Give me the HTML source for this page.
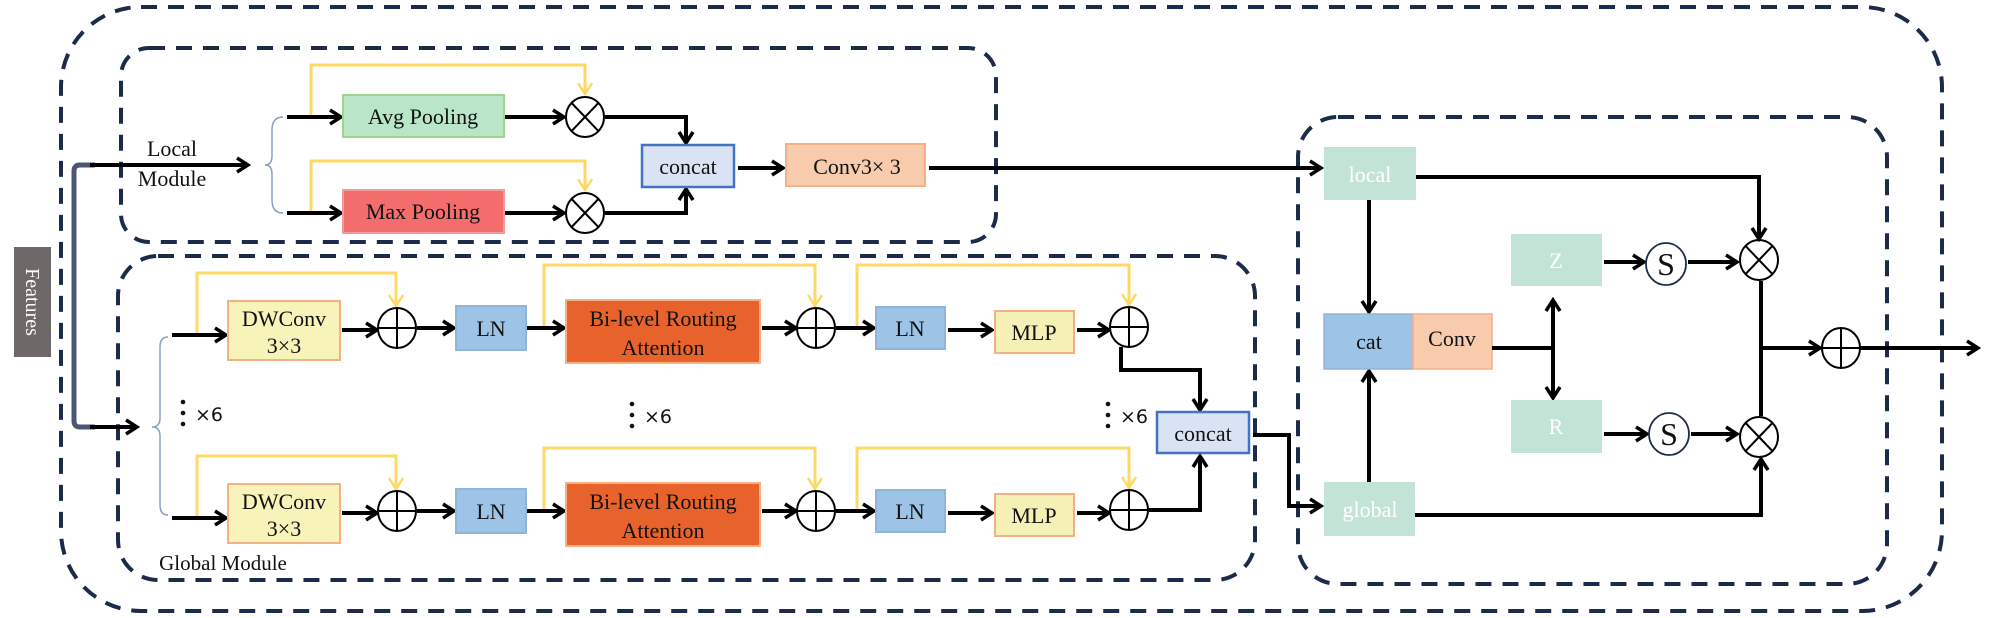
<!DOCTYPE html>
<html><head><meta charset="utf-8"><style>
html,body{margin:0;padding:0;background:#fff;}
svg{display:block;}
svg text.t, svg text.w{font-family:"Liberation Serif","Times New Roman",serif !important;}
.t{font-size:22px;fill:#111;text-anchor:middle;}
.w{font-size:22px;fill:#fff;text-anchor:middle;}
.s{font-family:"DejaVu Sans","Liberation Sans",sans-serif;font-size:19px;fill:#111;}
.d{fill:none;stroke:#1c2b4a;stroke-width:4;stroke-dasharray:16 11;}
.a{fill:none;stroke:#000;stroke-width:4;}
.y{fill:none;stroke:#ffd966;stroke-width:3;}
.c{fill:#fff;stroke:#000;stroke-width:2;}
</style></head><body>
<svg width="1999" height="618" viewBox="0 0 1999 618" xmlns="http://www.w3.org/2000/svg" font-family="Liberation Serif, serif">
<defs>
<marker id="m" markerUnits="userSpaceOnUse" markerWidth="16" markerHeight="18" refX="13" refY="9" orient="auto-start-reverse">
<path d="M2,2 L13,9 L2,16" fill="none" stroke="#000" stroke-width="3.5"/></marker>
<marker id="my" markerUnits="userSpaceOnUse" markerWidth="16" markerHeight="18" refX="13" refY="9" orient="auto">
<path d="M2,2 L13,9 L2,16" fill="none" stroke="#ffd966" stroke-width="2.5"/></marker>
<g id="ot"><ellipse cx="0" cy="0" rx="19" ry="20" class="c"/><path d="M-13.4,-14 L13.4,14 M13.4,-14 L-13.4,14" stroke="#000" stroke-width="2"/></g>
<g id="op"><ellipse cx="0" cy="0" rx="19" ry="20" class="c"/><path d="M-19,0 H19 M0,-20 V20" stroke="#000" stroke-width="2"/></g>
</defs>

<rect x="61" y="7" width="1881" height="604" rx="80" class="d"/>
<rect x="121" y="48" width="875" height="194" rx="28" class="d"/>
<rect x="118" y="256" width="1137" height="324" rx="40" class="d"/>
<rect x="1298" y="117" width="589" height="467" rx="40" class="d"/>

<rect x="14" y="247" width="37" height="110" fill="#6e6868"/>
<text class="w" transform="translate(26,302) rotate(90)" style="font-size:20px">Features</text>
<path d="M95,165 H80 Q74,165 74,171 V421 Q74,427 80,427 H95" fill="none" stroke="#4b5670" stroke-width="5"/>
<path d="M90,165 H248" class="a" marker-end="url(#m)"/>
<path d="M90,427 H137" class="a" marker-end="url(#m)"/>

<text class="t" x="172" y="156">Local</text>
<text class="t" x="172" y="186">Module</text>
<path d="M283,117 Q272,117 272,130 V156 Q272,165 265,165 Q272,165 272,174 V200 Q272,213 283,213" fill="none" stroke="#8aa0c0" stroke-width="1.5"/>
<path d="M311,117 V65 H585 V94" class="y" marker-end="url(#my)"/>
<path d="M311,213 V161 H585 V190" class="y" marker-end="url(#my)"/>
<path d="M287,117 H341" class="a" marker-end="url(#m)"/>
<path d="M287,213 H341" class="a" marker-end="url(#m)"/>
<rect x="343" y="95" width="161" height="42" fill="#b9e5c8" stroke="#a0d48a" stroke-width="2"/>
<text class="t" x="423" y="124">Avg Pooling</text>
<rect x="343" y="190" width="161" height="43" fill="#f46d6d" stroke="#f49a9a" stroke-width="2"/>
<text class="t" x="423" y="219">Max Pooling</text>
<path d="M505,117 H564" class="a" marker-end="url(#m)"/>
<path d="M505,213 H564" class="a" marker-end="url(#m)"/>
<use href="#ot" x="585" y="117"/>
<use href="#ot" x="585" y="213"/>
<path d="M605,117 H686 V143" class="a" marker-end="url(#m)"/>
<path d="M605,213 H686 V189" class="a" marker-end="url(#m)"/>
<rect x="642" y="145" width="92" height="42" fill="#dae3f3" stroke="#4472c4" stroke-width="2.5"/>
<text class="t" x="688" y="174">concat</text>
<path d="M738,168 H783" class="a" marker-end="url(#m)"/>
<rect x="786" y="144" width="139" height="42" fill="#f8cbad" stroke="#f4b183" stroke-width="2"/>
<text class="t" x="857" y="174">Conv3× 3</text>
<path d="M929,168 H1321" class="a" marker-end="url(#m)"/>

<path d="M168,337 Q160,337 160,347 V418 Q160,427 152,427 Q160,427 160,436 V505 Q160,515 168,515" fill="none" stroke="#8aa0c0" stroke-width="1.5"/>

<g id="row">
<path d="M197,335 V273 H396 V306" class="y" marker-end="url(#my)"/>
<path d="M544,328 V265 H815 V306" class="y" marker-end="url(#my)"/>
<path d="M857,328 V265 H1129 V305" class="y" marker-end="url(#my)"/>
<path d="M172,335 H226" class="a" marker-end="url(#m)"/>
<rect x="228" y="301" width="112" height="59" fill="#f7f3b9" stroke="#f4b183" stroke-width="2"/>
<text class="t" x="284" y="326">DWConv</text>
<text class="t" x="284" y="353">3×3</text>
<path d="M342,330 H377" class="a" marker-end="url(#m)"/>
<use href="#op" x="397" y="328"/>
<path d="M417,328 H454" class="a" marker-end="url(#m)"/>
<rect x="456" y="306" width="70" height="44" fill="#9dc3e6" stroke="#8fb4de" stroke-width="2"/>
<text class="t" x="491" y="336">LN</text>
<path d="M527,328 H564" class="a" marker-end="url(#m)"/>
<rect x="566" y="300" width="194" height="63" fill="#e8632b" stroke="#f4b183" stroke-width="2"/>
<text class="t" x="663" y="326">Bi-level Routing</text>
<text class="t" x="663" y="355">Attention</text>
<path d="M762,328 H796" class="a" marker-end="url(#m)"/>
<use href="#op" x="816" y="328"/>
<path d="M836,328 H874" class="a" marker-end="url(#m)"/>
<rect x="876" y="307" width="69" height="42" fill="#9dc3e6" stroke="#8fb4de" stroke-width="2"/>
<text class="t" x="910" y="336">LN</text>
<path d="M948,330 H992" class="a" marker-end="url(#m)"/>
<rect x="995" y="311" width="79" height="42" fill="#f5f0b5" stroke="#f4b183" stroke-width="2"/>
<text class="t" x="1034" y="340">MLP</text>
<path d="M1077,330 H1109" class="a" marker-end="url(#m)"/>
<use href="#op" x="1129" y="327"/>
</g>
<use href="#row" x="0" y="183"/>

<path d="M1121,347 V370 H1200 V410" class="a" marker-end="url(#m)"/>
<path d="M1149,510 H1200 V456" class="a" marker-end="url(#m)"/>
<rect x="1157" y="412" width="92" height="41" fill="#dae3f3" stroke="#4472c4" stroke-width="2.5"/>
<text class="t" x="1203" y="441">concat</text>

<g>
<circle cx="183" cy="402" r="2.3" fill="#111"/><circle cx="183" cy="413" r="2.3" fill="#111"/><circle cx="183" cy="424" r="2.3" fill="#111"/>
<text class="s" x="195" y="421">×6</text>
<circle cx="632" cy="404" r="2.3" fill="#111"/><circle cx="632" cy="415" r="2.3" fill="#111"/><circle cx="632" cy="426" r="2.3" fill="#111"/>
<text class="s" x="644" y="423">×6</text>
<circle cx="1108" cy="404" r="2.3" fill="#111"/><circle cx="1108" cy="415" r="2.3" fill="#111"/><circle cx="1108" cy="426" r="2.3" fill="#111"/>
<text class="s" x="1120" y="423">×6</text>
</g>
<text class="t" x="223" y="570" style="font-size:21px">Global Module</text>

<path d="M1253,435 H1289 V506 H1321" class="a" marker-end="url(#m)"/>
<rect x="1324" y="147" width="92" height="53" fill="#c4e3d7"/>
<text class="w" x="1370" y="182">local</text>
<rect x="1324" y="482" width="91" height="54" fill="#c4e3d7"/>
<text class="w" x="1370" y="517">global</text>
<path d="M1369,200 V312" class="a" stroke-width="3" marker-end="url(#m)"/>
<path d="M1369,482 V371" class="a" stroke-width="3" marker-end="url(#m)"/>
<rect x="1324" y="314" width="89" height="55" fill="#9dc3e6" stroke="#8fb4de" stroke-width="1.5"/>
<text class="t" x="1369" y="349">cat</text>
<rect x="1413" y="314" width="79" height="55" fill="#f8cbad" stroke="#f4b183" stroke-width="1.5"/>
<text class="t" x="1452" y="346">Conv</text>
<path d="M1492,348 H1553" class="a"/>
<path d="M1553,300 V398" class="a" marker-start="url(#m)" marker-end="url(#m)"/>
<rect x="1511" y="234" width="91" height="52" fill="#c4e3d7"/>
<text class="w" x="1556" y="268">Z</text>
<rect x="1511" y="400" width="91" height="53" fill="#c4e3d7"/>
<text class="w" x="1556" y="434">R</text>
<path d="M1604,262 H1644" class="a" marker-end="url(#m)"/>
<path d="M1604,434 H1647" class="a" marker-end="url(#m)"/>
<ellipse cx="1666" cy="264" rx="20" ry="21" fill="#fff" stroke="#1c2b4a" stroke-width="1.8"/>
<text class="t" x="1666" y="275" style="font-size:32px">S</text>
<ellipse cx="1669" cy="434" rx="20" ry="21" fill="#fff" stroke="#1c2b4a" stroke-width="1.8"/>
<text class="t" x="1669" y="445" style="font-size:32px">S</text>
<path d="M1688,262 H1737" class="a" marker-end="url(#m)"/>
<path d="M1691,434 H1737" class="a" marker-end="url(#m)"/>
<use href="#ot" x="1759" y="260"/>
<use href="#ot" x="1759" y="437"/>
<path d="M1416,177 H1759 V239" class="a" marker-end="url(#m)"/>
<path d="M1415,515 H1761 V459" class="a" marker-end="url(#m)"/>
<path d="M1761,281 V416" class="a"/>
<path d="M1761,348 H1820" class="a" marker-end="url(#m)"/>
<use href="#op" x="1841" y="348"/>
<path d="M1860,348 H1978" class="a" marker-end="url(#m)"/>
</svg>
</body></html>
